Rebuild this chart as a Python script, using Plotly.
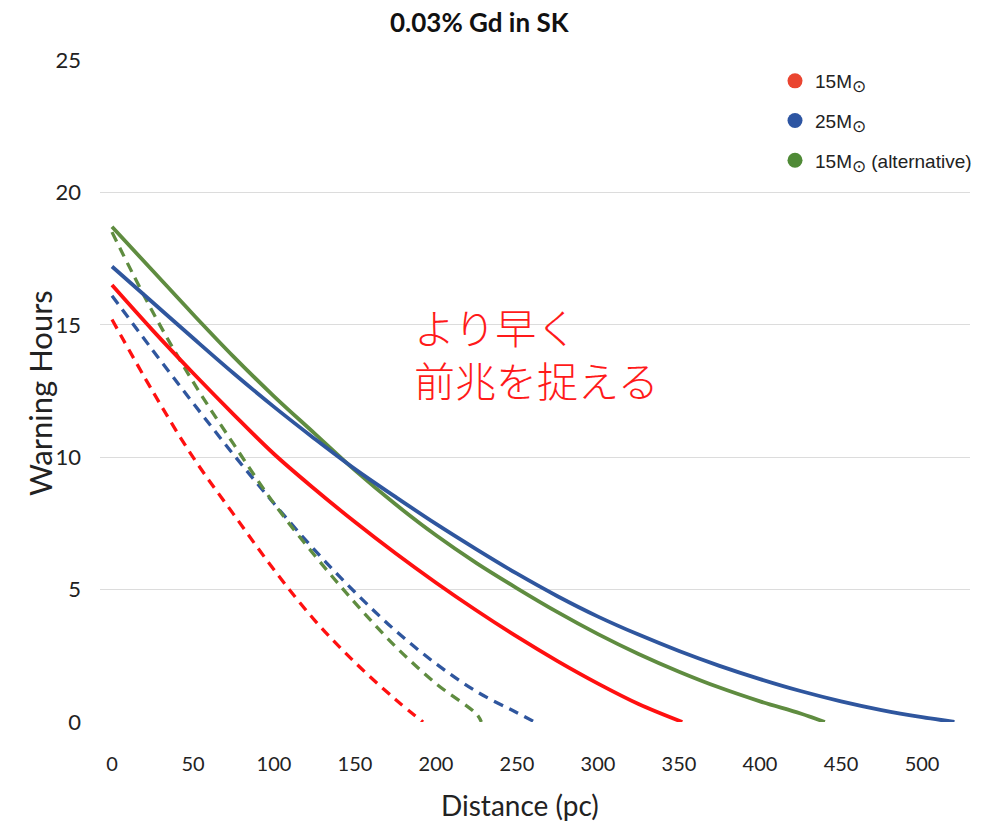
import plotly.graph_objects as go

# Distance (pc) and warning hours for each progenitor model
red_solid_d = [0, 25, 50, 75, 100, 125, 150, 175, 200, 225, 250, 275, 300, 325, 352]
red_solid_h = [16.5, 14.8, 13.18, 11.62, 10.12, 8.8, 7.55, 6.37, 5.26, 4.21, 3.22, 2.3, 1.45, 0.68, 0.0]

blue_solid_d = [0, 25, 50, 75, 100, 125, 150, 175, 200, 225, 250, 275, 300, 325, 350, 375, 400, 425, 450, 475, 500, 520]
blue_solid_h = [17.2, 15.85, 14.5, 13.17, 11.9, 10.7, 9.55, 8.5, 7.48, 6.52, 5.6, 4.75, 3.98, 3.3, 2.68, 2.12, 1.62, 1.17, 0.78, 0.45, 0.18, 0.0]

green_solid_d = [0, 25, 50, 75, 100, 125, 150, 175, 200, 225, 250, 275, 300, 325, 350, 375, 400, 425, 440]
green_solid_h = [18.7, 17.05, 15.4, 13.8, 12.3, 10.9, 9.5, 8.22, 7.05, 6.0, 5.05, 4.15, 3.32, 2.57, 1.9, 1.3, 0.78, 0.32, 0.0]

red_dash_d = [0, 25, 50, 75, 100, 125, 150, 175, 192]
red_dash_h = [15.2, 12.5, 10.0, 7.85, 5.75, 3.85, 2.25, 0.85, 0.0]

blue_dash_d = [0, 25, 50, 75, 100, 125, 150, 175, 200, 225, 250, 261]
blue_dash_h = [16.1, 14.05, 12.05, 10.1, 8.25, 6.5, 4.9, 3.45, 2.2, 1.15, 0.35, 0.0]

green_dash_d = [0, 25, 50, 75, 100, 125, 150, 175, 200, 225, 228]
green_dash_h = [18.5, 15.5, 12.85, 10.5, 8.25, 6.3, 4.5, 2.85, 1.45, 0.3, 0.0]

SUN = "<sub><span style='font-size:17px'>⊙</span></sub>"
legend_names = [f"15M{SUN}", f"25M{SUN}", f"15M{SUN} (alternative)"]
legend_colors = ["#ea4530", "#2d55a2", "#4f8a36"]

x_ticks = [0, 50, 100, 150, 200, 250, 300, 350, 400, 450, 500]
y_ticks = [0, 5, 10, 15, 20, 25]

RED = "#ff1010"
BLUE = "#2f569e"
GREEN = "#5f8c40"
DASH = "10px,7px"

W, H = 990, 825
ML, MR, MT, MB = 100, 20, 60, 103
PW, PH = W - ML - MR, H - MT - MB


def px_to_paper(x, y):
    """Convert a pixel position on the page to paper coordinates."""
    return (x - ML) / PW, (H - MB - y) / PH


fig = go.Figure()

curves = [
    (red_dash_d, red_dash_h, RED, DASH),
    (blue_dash_d, blue_dash_h, BLUE, DASH),
    (green_dash_d, green_dash_h, GREEN, DASH),
    (red_solid_d, red_solid_h, RED, "solid"),
    (green_solid_d, green_solid_h, GREEN, "solid"),
    (blue_solid_d, blue_solid_h, BLUE, "solid"),
]
for d, h, c, dash in curves:
    fig.add_trace(go.Scatter(
        x=d, y=h, mode="lines",
        line=dict(color=c, width=3.8 if dash == "solid" else 3.3, dash=dash,
                  shape="spline", smoothing=1.0),
        showlegend=False, hoverinfo="skip",
    ))

# legend-only marker entries
for i, (name, col) in enumerate(zip(legend_names, legend_colors)):
    fig.add_trace(go.Scatter(
        x=[None], y=[None], mode="markers", name=name,
        marker=dict(color=col, size=15, symbol="circle"),
        legendgroup=f"g{i}",
    ))

FONT = "Lato, sans-serif"


def note(text, x, y, size, family=FONT, color="#222222", angle=0, anchor="center",
         align="center", weight=None):
    px, py = px_to_paper(x, y)
    font = dict(family=family, size=size, color=color)
    if weight is not None:
        font["weight"] = weight
    return dict(text=text, x=px, y=py, xref="paper", yref="paper", showarrow=False,
                textangle=angle, align=align, xanchor=anchor, yanchor="middle", font=font)


fig.update_layout(
    width=W, height=H,
    margin=dict(l=ML, r=MR, t=MT, b=MB),
    paper_bgcolor="white", plot_bgcolor="white",
    font=dict(family=FONT, color="#222222"),
    showlegend=True,
    legend=dict(
        x=px_to_paper(775, 0)[0], y=0.997, xanchor="left", yanchor="top",
        bgcolor="rgba(0,0,0,0)", tracegroupgap=12,
        font=dict(family="Liberation Sans, Arial, sans-serif", size=19, color="#222222"),
        itemwidth=30,
    ),
    xaxis=dict(
        range=[-7.4, 529.6], tickvals=x_ticks, showgrid=False, zeroline=False,
        showline=False, ticks="", ticklabelstandoff=28,
        tickfont=dict(family=FONT, size=20, color="#222222"),
    ),
    yaxis=dict(
        range=[0, 25], tickvals=y_ticks, showgrid=True, gridcolor="#dcdcdc", gridwidth=1.2,
        zeroline=False, showline=False, ticks="", ticklabelstandoff=18,
        tickfont=dict(family=FONT, size=22, color="#222222"),
    ),
    annotations=[
        note("<b>0.03% Gd in SK</b>", 480, 22, 26, color="#111111"),
        note("Distance (pc)", 520, 805, 28),
        note("Warning Hours", 40, 393, 31, angle=-90),
        note("より早く<br>前兆を捉える", 412, 352, 41, family="Noto Sans CJK JP",
             color="#ff1a1a", anchor="left", align="left", weight=300),
    ],
)

fig.write_html("out.html")
